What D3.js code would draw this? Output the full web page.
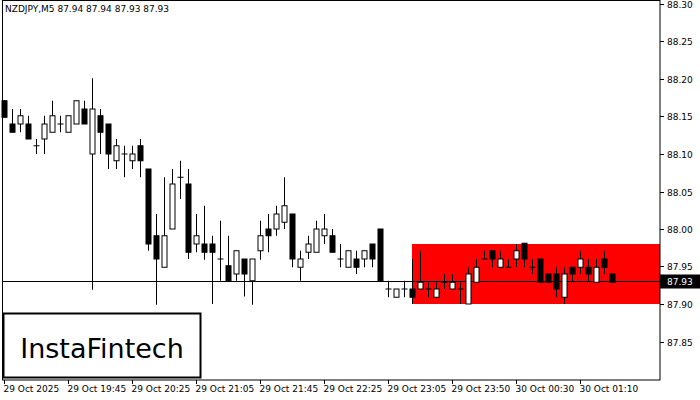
<!DOCTYPE html>
<html>
<head>
<style>
  body { margin: 0; background: #fff; }
  text { font-family: "DejaVu Sans", sans-serif; }
</style>
</head>
<body>
<script src="https://cdn.jsdelivr.net/npm/d3@7"></script>
<script>
// candle values, bar order left to right
var opens  = [88.171,88.140,88.140,88.140,88.111,88.120,88.129,88.140,88.129,88.140,88.160,88.100,88.151,88.140,88.091,88.100,88.091,88.111,88.080,87.991,87.949,88.000,88.069,88.060,87.980,87.980,87.980,87.960,87.951,87.940,87.960,87.931,87.971,88.000,88.000,88.009,88.020,87.949,87.969,87.969,87.991,87.991,87.960,87.949,87.960,87.960,87.980,88.000,87.920,87.909,87.920,87.920,87.920,87.920,87.909,87.929,87.920,87.920,87.900,87.929,87.960,87.971,87.949,87.949,87.960,87.981,87.949,87.960,87.940,87.940,87.909,87.949,87.949,87.949,87.929,87.960,87.940];
var highs  = [88.172,88.160,88.160,88.151,88.120,88.151,88.171,88.151,88.151,88.171,88.171,88.201,88.160,88.140,88.120,88.111,88.111,88.120,88.080,88.020,88.069,88.080,88.091,88.080,88.020,88.031,87.991,88.011,87.991,87.971,87.960,87.960,88.011,88.020,88.031,88.069,88.020,87.971,87.991,88.011,88.020,88.000,87.980,87.971,87.971,87.971,87.980,88.000,87.931,87.920,87.931,87.960,87.971,87.929,87.929,87.940,87.940,87.929,87.949,87.960,87.971,87.971,87.971,87.960,87.980,87.981,87.960,87.960,87.940,87.949,87.949,87.949,87.971,87.960,87.960,87.971,87.940];
var lows   = [88.149,88.129,88.129,88.120,88.100,88.100,88.129,88.129,88.129,88.140,88.140,87.919,88.100,88.080,88.080,88.069,88.080,88.069,87.971,87.899,87.949,88.000,88.040,87.960,87.969,87.959,87.900,87.931,87.931,87.931,87.910,87.899,87.959,87.969,87.991,88.000,87.949,87.931,87.960,87.969,87.980,87.969,87.949,87.949,87.940,87.949,87.949,87.931,87.909,87.909,87.909,87.900,87.920,87.909,87.909,87.920,87.920,87.900,87.900,87.929,87.960,87.949,87.949,87.949,87.949,87.949,87.940,87.929,87.929,87.909,87.900,87.929,87.940,87.929,87.929,87.940,87.929];
var closes = [88.149,88.129,88.151,88.120,88.111,88.140,88.151,88.140,88.151,88.171,88.140,88.160,88.129,88.100,88.111,88.100,88.100,88.091,87.980,87.960,87.991,88.060,88.069,87.969,87.991,87.969,87.969,87.960,87.931,87.971,87.940,87.960,87.991,87.991,88.020,88.031,87.960,87.960,87.980,88.000,88.000,87.969,87.960,87.971,87.949,87.971,87.960,87.931,87.920,87.920,87.920,87.909,87.929,87.920,87.920,87.929,87.929,87.920,87.940,87.949,87.960,87.960,87.960,87.949,87.971,87.960,87.949,87.929,87.929,87.920,87.940,87.940,87.960,87.940,87.949,87.949,87.929];

var priceTicks = [88.30,88.25,88.20,88.15,88.10,88.05,88.00,87.95,87.90,87.85];
var timeLabels = ["29 Oct 2025","29 Oct 19:45","29 Oct 20:25","29 Oct 21:05","29 Oct 21:45","29 Oct 22:25","29 Oct 23:05","29 Oct 23:50","30 Oct 00:30","30 Oct 01:10"];
var timeBars   = [0,8,16,24,32,40,48,56,64,72];

var lastPrice = 87.93;
var zoneTop = 87.98, zoneBottom = 87.90, zoneStartBar = 51;

var W = 700, H = 400, plotRight = 660, plotBottom = 380;

var svg = d3.select("body").append("svg").attr("width", W).attr("height", H);

var x = d3.scaleLinear().domain([0, 76]).range([4, 612]);
var y = d3.scaleLinear().domain([87.80, 88.30]).range([379, 4]);

// red zone
svg.append("rect")
  .attr("x", x(zoneStartBar))
  .attr("y", y(zoneTop))
  .attr("width", plotRight - x(zoneStartBar))
  .attr("height", y(zoneBottom) - y(zoneTop))
  .attr("fill", "#ff0000");

// current price line
svg.append("line")
  .attr("x1", 2).attr("x2", plotRight)
  .attr("y1", Math.round(y(lastPrice)) + 0.5).attr("y2", Math.round(y(lastPrice)) + 0.5)
  .attr("stroke", "#000").attr("stroke-width", 1);

var data = opens.map(function(o, i) {
  return { i: i, o: o, h: highs[i], l: lows[i], c: closes[i] };
});

var g = svg.append("g");
g.selectAll("line.wick").data(data).enter().append("line")
  .attr("x1", function(d) { return Math.round(x(d.i)) + 0.5; })
  .attr("x2", function(d) { return Math.round(x(d.i)) + 0.5; })
  .attr("y1", function(d) { return y(d.h); })
  .attr("y2", function(d) { return y(d.l); })
  .attr("stroke", "#000");

g.selectAll("rect.body").data(data).enter().append("rect")
  .attr("x", function(d) { return Math.round(x(d.i)) - 2; })
  .attr("width", 5)
  .attr("y", function(d) { return y(Math.max(d.o, d.c)); })
  .attr("height", function(d) { return Math.max(0.01, Math.abs(y(d.o) - y(d.c))); })
  .attr("fill", function(d) { return d.c > d.o ? "#fff" : "#000"; })
  .attr("stroke", "#000").attr("stroke-width", 1);

// frame
svg.append("rect").attr("x", 2.5).attr("y", 0.5)
  .attr("width", plotRight - 2.5).attr("height", plotBottom - 0.5)
  .attr("fill", "none").attr("stroke", "#000");

// price axis
var yAxis = svg.append("g");
priceTicks.forEach(function(p) {
  var yy = Math.round(y(p)) + 0.5;
  yAxis.append("line").attr("x1", plotRight).attr("x2", plotRight + 4)
    .attr("y1", yy).attr("y2", yy).attr("stroke", "#000");
  yAxis.append("text").attr("x", 667).attr("y", yy + 3.5)
    .attr("font-size", 9).attr("fill", "#000").text(p.toFixed(2));
});

// last price label
svg.append("rect").attr("x", plotRight).attr("y", y(lastPrice) - 7)
  .attr("width", 40).attr("height", 14).attr("fill", "#000");
svg.append("text").attr("x", 667).attr("y", y(lastPrice) + 3.5)
  .attr("font-size", 9).attr("fill", "#fff").text(lastPrice.toFixed(2));

// time axis
timeBars.forEach(function(b, k) {
  var xx = Math.round(x(b)) + 0.5;
  svg.append("line").attr("x1", xx).attr("x2", xx)
    .attr("y1", plotBottom).attr("y2", plotBottom + 4).attr("stroke", "#000");
  svg.append("text").attr("x", xx - 1).attr("y", 392)
    .attr("font-size", 9).attr("fill", "#000").text(timeLabels[k]);
});

// header
svg.append("text").attr("x", 5).attr("y", 12).attr("font-size", 9)
  .text("NZDJPY,M5  87.94 87.94 87.93 87.93");

// logo box
svg.append("rect").attr("x", 3.5).attr("y", 313.5).attr("width", 197).attr("height", 64)
  .attr("fill", "#fff").attr("stroke", "#000").attr("stroke-width", 2);
svg.append("text").attr("x", 102).attr("y", 358).attr("text-anchor", "middle")
  .attr("font-size", 27).attr("font-family", "Roboto, sans-serif").attr("fill", "#000")
  .text("InstaFintech");
</script>
</body>
</html>
